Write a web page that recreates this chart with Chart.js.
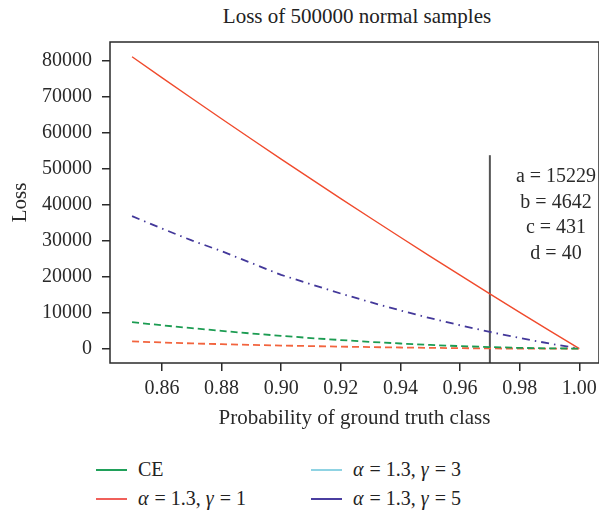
<!DOCTYPE html>
<html>
<head>
<meta charset="utf-8">
<script src="https://cdn.jsdelivr.net/npm/chart.js@4.4.0/dist/chart.umd.min.js"></script>
<style>
  html, body { margin: 0; padding: 0; background: #fff; }
  #wrap { position: relative; width: 599px; height: 510px; overflow: hidden;
          font-family: 'Liberation Serif', 'DejaVu Serif', serif; color: #222; }
  #chartBox { position: absolute; left: 0; top: 0; width: 599px; height: 440px; }
  #title { position: absolute; left: 110px; width: 494px; top: 4px; text-align: center; font-size: 21px; }
  #legend { position: absolute; left: 96px; top: 455px; display: grid;
            grid-template-columns: 215px auto; grid-auto-rows: 29px; font-size: 20px; }
  .lg-item { display: flex; align-items: center; white-space: pre; }
  .lg-line { width: 31px; height: 2px; margin-right: 11px; }
  .gk { font-style: italic; padding-right: 1px; }
</style>
</head>
<body>
<div id="wrap">
  <div id="title">Loss of 500000 normal samples</div>
  <div id="chartBox"><canvas id="lossChart"></canvas></div>
  <div id="legend"></div>
</div>
<script>
// probability of ground truth class
const P_VALUES = [0.85, 0.86, 0.87, 0.88, 0.89, 0.90, 0.91, 0.92, 0.93, 0.94, 0.95, 0.96, 0.97, 0.98, 0.99, 1.00];

// loss per curve
const LOSS_CE = [7350, 6490, 5680, 4920, 4205, 3543, 2930, 2370, 1865, 1413, 1017, 681, 431, 196, 56, 0];
const LOSS_G1 = [81200, 75393, 69643, 63949, 58311, 52729, 47204, 41734, 36321, 30963, 25662, 20417, 15229, 10096, 5020, 0];
const LOSS_G3 = [1980, 1700, 1450, 1230, 1030, 850, 690, 545, 415, 300, 200, 115, 40, 12, 2, 0];
const LOSS_G5 = [36840, 33400, 30100, 27100, 23800, 20500, 17900, 15300, 12900, 10600, 8450, 6480, 4642, 2950, 1400, 0];

const X_TICKS = [0.86, 0.88, 0.90, 0.92, 0.94, 0.96, 0.98, 1.00];
const Y_TICKS = [0, 10000, 20000, 30000, 40000, 50000, 60000, 70000, 80000];

const X_MIN = 0.8426, X_MAX = 1.0066;
const Y_MIN = -4010,  Y_MAX = 85290;

// vertical marker at p = 0.97 and the numbers beside it
const MARK_P   = 0.97;
const MARK_TOP = 53800;
const NOTE_LINES = ['a = 15229', 'b = 4642', 'c = 431', 'd = 40'];

const FONT = "'Liberation Serif', 'DejaVu Serif', serif";
const INK  = '#2a2a2a';

function pts(ys) {
    return P_VALUES.map((p, i) => ({ x: p, y: ys[i] }));
}

const GK = s => `<span class="gk">${s}</span>`;

const series = [
    { label: 'CE',             html: 'CE',                               data: LOSS_CE, color: '#1c9c52', legend: '#20a05a', dash: [7, 4],         width: 1.8 },
    { label: 'α = 1.3, γ = 3', html: `${GK('α')} = 1.3, ${GK('γ')} = 3`, data: LOSS_G3, color: '#f2643e', legend: '#8fd3e3', dash: [7, 4],         width: 1.8 },
    { label: 'α = 1.3, γ = 1', html: `${GK('α')} = 1.3, ${GK('γ')} = 1`, data: LOSS_G1, color: '#f04a2c', legend: '#f0605a', dash: [],             width: 1.4 },
    { label: 'α = 1.3, γ = 5', html: `${GK('α')} = 1.3, ${GK('γ')} = 5`, data: LOSS_G5, color: '#43389a', legend: '#4a3ea0', dash: [8, 5, 1.5, 5], width: 1.8 },
];

const datasets = series.map(s => ({
    label: s.label,
    data: pts(s.data),
    borderColor: s.color,
    borderWidth: s.width,
    borderDash: s.dash,
    pointRadius: 0,
    fill: false,
    tension: 0,
}));

datasets.push({
    label: 'marker',
    data: [{ x: MARK_P, y: Y_MIN }, { x: MARK_P, y: MARK_TOP }],
    borderColor: '#555',
    borderWidth: 2,
    pointRadius: 0,
    fill: false,
});

// frame around the plot + the a/b/c/d note
const framePlugin = {
    id: 'frame',
    afterDraw(chart) {
        const { ctx, chartArea: a } = chart;
        ctx.save();
        ctx.strokeStyle = INK;
        ctx.lineWidth = 1.5;
        ctx.strokeRect(a.left, a.top, a.right - a.left, a.bottom - a.top);

        ctx.fillStyle = INK;
        ctx.font = `20px ${FONT}`;
        ctx.textAlign = 'center';
        ctx.textBaseline = 'middle';
        NOTE_LINES.forEach((t, i) => ctx.fillText(t, a.right - 43, a.top + 135 + i * 25.6));
        ctx.restore();
    }
};

const tickFont  = { family: FONT, size: 20 };
const titleFont = { family: FONT, size: 21 };

new Chart(document.getElementById('lossChart'), {
    type: 'line',
    data: { datasets },
    options: {
        responsive: true,
        maintainAspectRatio: false,
        animation: false,
        devicePixelRatio: 1,
        layout: { padding: { top: 42, right: 0, bottom: 0, left: 0 } },
        plugins: { legend: { display: false }, tooltip: { enabled: false }, title: { display: false } },
        scales: {
            x: {
                type: 'linear', min: X_MIN, max: X_MAX,
                border: { display: false },
                grid: { display: true, drawOnChartArea: false, drawTicks: true, tickLength: 8, color: INK, lineWidth: 1.5 },
                ticks: { font: tickFont, color: INK, padding: 6, maxRotation: 0, callback: v => v.toFixed(2) },
                title: { display: true, text: 'Probability of ground truth class', font: titleFont, color: INK, padding: { top: 0, bottom: 9 } },
                afterBuildTicks: s => { s.ticks = X_TICKS.map(v => ({ value: v })); },
                afterFit: s => { s.height = 77; s.paddingLeft = 0; s.paddingRight = 0; },
            },
            y: {
                type: 'linear', min: Y_MIN, max: Y_MAX,
                border: { display: false },
                grid: { display: true, drawOnChartArea: false, drawTicks: true, tickLength: 8, color: INK, lineWidth: 1.5 },
                ticks: { font: tickFont, color: INK, padding: 10, callback: v => String(v) },
                title: { display: true, text: 'Loss', font: titleFont, color: INK, padding: { top: 8, bottom: 0 } },
                afterBuildTicks: s => { s.ticks = Y_TICKS.map(v => ({ value: v })); },
                afterFit: s => { s.width = 110; s.paddingTop = 0; s.paddingBottom = 0; },
            }
        }
    },
    plugins: [framePlugin]
});

// legend in two columns, under the chart
document.getElementById('legend').innerHTML = series.map(s =>
    `<div class="lg-item"><span class="lg-line" style="background:${s.legend}"></span>${s.html}</div>`
).join('');
</script>
</body>
</html>
